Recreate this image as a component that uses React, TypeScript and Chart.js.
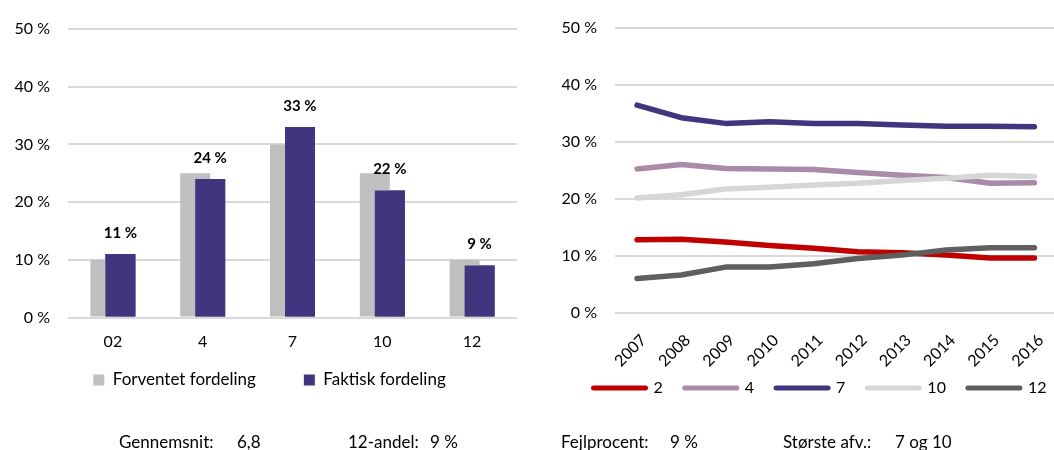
import React, { useEffect, useRef } from "react";
import { Chart, registerables } from "chart.js";

Chart.register(...registerables);

// ---------- data ----------
const gradeLabels = ["02", "4", "7", "10", "12"];
const expectedShare = [10, 25, 30, 25, 10];
const actualShare = [11, 24, 33, 22, 9];

const years = ["2007", "2008", "2009", "2010", "2011", "2012", "2013", "2014", "2015", "2016"];
const grade2 = [12.8, 12.9, 12.4, 11.8, 11.3, 10.7, 10.5, 10.1, 9.6, 9.6];
const grade4 = [25.2, 26.0, 25.3, 25.2, 25.1, 24.6, 24.1, 23.7, 22.7, 22.8];
const grade7 = [36.4, 34.2, 33.2, 33.5, 33.2, 33.2, 32.9, 32.7, 32.7, 32.6];
const grade10 = [20.1, 20.7, 21.7, 22.0, 22.4, 22.7, 23.2, 23.6, 24.1, 23.9];
const grade12 = [6.0, 6.6, 8.0, 8.0, 8.6, 9.5, 10.1, 11.0, 11.4, 11.4];
const lineSeriesNames = ["2", "4", "7", "10", "12"];

const summaryTexts = ["Gennemsnit:", "6,8", "12-andel:", "9 %", "Fejlprocent:", "9 %", "Største afv.:", "7 og 10"];

// ---------- styling / layout ----------
const FONT = "Lato";
const TEXT = "#000";
const GRID = "#D9D9D9";
const GREY_BAR = "#BFBFBF";
const PURPLE = "#41357F";
const lineColors = ["#C00000", "#A98AA9", "#41357F", "#D6D6D6", "#5F5F5F"];
const summaryX = [119, 237, 348, 430, 561, 670, 783, 895];

const pct = (v: any) => `${v} %`;

// Draw the "Faktisk" bars above the "Forventet" bars, then their value labels.
const barValueLabels = {
  id: "barValueLabels",
  afterDatasetsDraw(chart: any) {
    const ctx = chart.ctx;
    const meta = chart.getDatasetMeta(1);
    meta.controller.draw();
    const data = chart.data.datasets[1].data;
    ctx.save();
    ctx.font = `bold 15px ${FONT}`;
    ctx.fillStyle = TEXT;
    ctx.textAlign = "center";
    ctx.textBaseline = "middle";
    meta.data.forEach((el: any, i: number) => {
      ctx.fillText(pct(data[i]), el.x, el.y - 21);
    });
    ctx.restore();
  },
};

// Move the legend box closer to the axis labels.
const legendShift = {
  id: "legendShift",
  afterLayout(chart: any, _args: any, opts: any) {
    const lg = chart.legend;
    if (!lg || !opts) return;
    const dy = opts.dy || 0;
    const dx = opts.dx || 0;
    lg.top += dy;
    lg.bottom += dy;
    lg.left += dx;
    lg.right += dx;
  },
};

const yAxis = (width: number) => ({
  min: 0,
  max: 50,
  ticks: { stepSize: 10, padding: 18, color: TEXT, font: { family: FONT, size: 16 }, callback: pct },
  grid: { color: GRID, lineWidth: 2, drawTicks: false },
  border: { display: false },
  afterFit: (s: any) => {
    s.width = width;
  },
});

export default function App() {
  const leftRef = useRef<HTMLCanvasElement>(null);
  const rightRef = useRef<HTMLCanvasElement>(null);

  useEffect(() => {
    const left = new Chart(leftRef.current as HTMLCanvasElement, {
      type: "bar",
      data: {
        labels: gradeLabels,
        datasets: [
          {
            label: "Forventet fordeling",
            data: expectedShare,
            backgroundColor: GREY_BAR,
            borderWidth: 0,
            categoryPercentage: 0.334,
            barPercentage: 2,
          },
          {
            label: "Faktisk fordeling",
            data: actualShare,
            backgroundColor: PURPLE,
            borderWidth: 0,
            categoryPercentage: 0.334,
            barPercentage: 2,
          },
        ],
      },
      options: {
        responsive: false,
        animation: false,
        layout: { padding: { top: 29, right: 23, bottom: 0.5, left: 0 } },
        plugins: {
          tooltip: { enabled: false },
          legendShift: { dy: -34, dx: 11 },
          legend: {
            position: "bottom",
            labels: {
              color: TEXT,
              font: { family: FONT, size: 17 },
              boxWidth: 11,
              boxHeight: 11,
              padding: 48,
            },
          },
        },
        scales: {
          x: {
            grid: { display: false, drawTicks: false },
            border: { display: false },
            ticks: { padding: 15, color: TEXT, font: { family: FONT, size: 16 } },
            afterFit: (s: any) => {
              s.height = 40;
            },
          },
          y: yAxis(68),
        },
      } as any,
      plugins: [barValueLabels, legendShift],
    });

    const seriesData = [grade2, grade4, grade7, grade10, grade12];
    const right = new Chart(rightRef.current as HTMLCanvasElement, {
      type: "line",
      data: {
        labels: years,
        datasets: seriesData.map((d, i) => ({
          label: lineSeriesNames[i],
          data: d,
          borderColor: lineColors[i],
          backgroundColor: lineColors[i],
          borderWidth: 5.5,
          borderCapStyle: "round",
          borderJoinStyle: "round",
          pointRadius: 0,
          pointHoverRadius: 0,
          tension: 0,
          fill: false,
          order: 5 - i,
        })),
      },
      options: {
        responsive: false,
        animation: false,
        layout: { padding: { top: 22, right: 0, bottom: 0.3, left: 0 } },
        plugins: {
          tooltip: { enabled: false },
          legendShift: { dy: -16.7, dx: 7 },
          legend: {
            position: "bottom",
            labels: {
              color: TEXT,
              font: { family: FONT, size: 16 },
              usePointStyle: true,
              pointStyle: "line",
              pointStyleWidth: 52,
              padding: 22,
              sort: (a: any, b: any) => a.datasetIndex - b.datasetIndex,
              generateLabels: (chart: any) =>
                Chart.defaults.plugins.legend.labels.generateLabels(chart).map((l: any) => ({
                  ...l,
                  lineCap: "round",
                  lineWidth: 5,
                  strokeStyle: lineColors[l.datasetIndex],
                  fillStyle: lineColors[l.datasetIndex],
                })),
            },
          },
        },
        scales: {
          x: {
            offset: true,
            grid: { display: false, drawTicks: false },
            border: { display: false },
            ticks: {
              minRotation: 45,
              maxRotation: 45,
              padding: 18,
              labelOffset: 6.5,
              color: TEXT,
              font: { family: FONT, size: 16 },
            },
            afterFit: (s: any) => {
              s.height = 62;
            },
          },
          y: yAxis(55),
        },
      } as any,
      plugins: [legendShift],
    });

    return () => {
      left.destroy();
      right.destroy();
    };
  }, []);

  return (
    <div
      style={{
        position: "absolute",
        left: 0,
        top: 0,
        width: 1054,
        height: 450,
        overflow: "hidden",
        background: "#fff",
        fontFamily: FONT,
        fontSize: 17,
        color: TEXT,
      }}
    >
      <div style={{ position: "absolute", left: 0, top: 0, width: 540, height: 433 }}>
        <canvas ref={leftRef} width={540} height={433} style={{ display: "block" }} />
      </div>
      <div style={{ position: "absolute", left: 560, top: 0, width: 506, height: 423 }}>
        <canvas ref={rightRef} width={506} height={423} style={{ display: "block" }} />
      </div>
      {summaryTexts.map((t, i) => (
        <span
          key={i}
          style={{ position: "absolute", left: summaryX[i], top: 432, lineHeight: "20px", whiteSpace: "nowrap" }}
        >
          {t}
        </span>
      ))}
    </div>
  );
}
